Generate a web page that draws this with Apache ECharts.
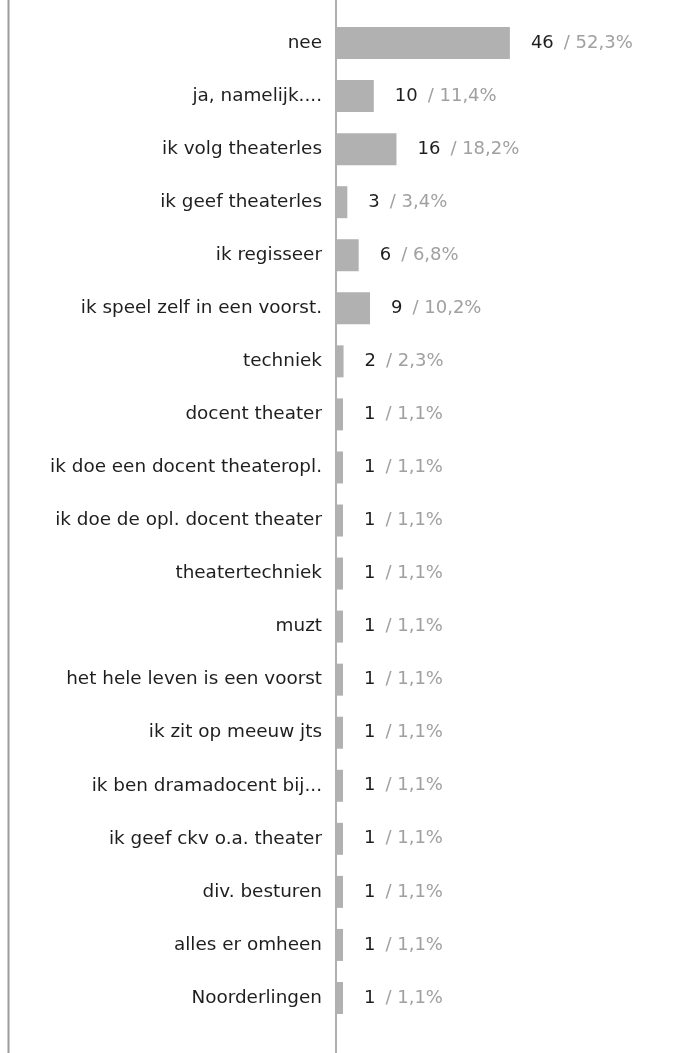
<!DOCTYPE html>
<html>
<head>
<meta charset="utf-8">
<script src="https://cdn.jsdelivr.net/npm/echarts@6/dist/echarts.min.js"></script>
<style>
html,body{margin:0;padding:0;background:#fff;}
#chart{width:675px;height:1053px;}
</style>
</head>
<body>
<div id="chart"></div>
<script>
const categories = [
  'nee',
  'ja, namelijk....',
  'ik volg theaterles',
  'ik geef theaterles',
  'ik regisseer',
  'ik speel zelf in een voorst.',
  'techniek',
  'docent theater',
  'ik doe een docent theateropl.',
  'ik doe de opl. docent theater',
  'theatertechniek',
  'muzt',
  'het hele leven is een voorst',
  'ik zit op meeuw jts',
  'ik ben dramadocent bij...',
  'ik geef ckv o.a. theater',
  'div. besturen',
  'alles er omheen',
  'Noorderlingen'
];
const counts = [46, 10, 16, 3, 6, 9, 2, 1, 1, 1, 1, 1, 1, 1, 1, 1, 1, 1, 1];
const percents = ['52,3%', '11,4%', '18,2%', '3,4%', '6,8%', '10,2%', '2,3%', '1,1%', '1,1%', '1,1%', '1,1%', '1,1%', '1,1%', '1,1%', '1,1%', '1,1%', '1,1%', '1,1%', '1,1%'];

const chart = echarts.init(document.getElementById('chart'), null, {renderer: 'canvas'});
const FONT = 'DejaVu Sans';
chart.setOption({
  animation: false,
  backgroundColor: '#ffffff',
  grid: {left: 336, right: 150, top: 16.5, bottom: 28.5, containLabel: false},
  xAxis: {
    type: 'value', min: 0, max: 50,
    show: false
  },
  yAxis: {
    type: 'category',
    data: categories,
    inverse: true,
    axisLine: {show: false},
    axisTick: {show: false},
    splitLine: {show: false},
    axisLabel: {
      margin: 14,
      fontFamily: FONT,
      fontSize: 18.4,
      color: '#1e1e1e'
    }
  },
  series: [{
    type: 'bar',
    data: counts,
    barWidth: 32,
    barMinHeight: 7,
    itemStyle: {color: '#b1b1b1'},
    label: {
      show: true,
      position: 'right',
      distance: 21,
      fontFamily: FONT,
      formatter: p => '{a|' + p.value + '}{s|}{b|/ ' + percents[p.dataIndex] + '}',
      rich: {
        a: {fontFamily: FONT, fontSize: 18, color: '#1e1e1e'},
        s: {width: 10},
        b: {fontFamily: FONT, fontSize: 18, color: '#a0a0a0'}
      }
    }
  }],
  graphic: [
    {type: 'line', shape: {x1: 8.5, y1: 0, x2: 8.5, y2: 1053}, style: {stroke: '#9c9c9c', lineWidth: 2}, silent: true},
    {type: 'line', shape: {x1: 336, y1: 0, x2: 336, y2: 1053}, style: {stroke: '#b0b0b0', lineWidth: 2}, silent: true, z: 10}
  ]
});
</script>
</body>
</html>
